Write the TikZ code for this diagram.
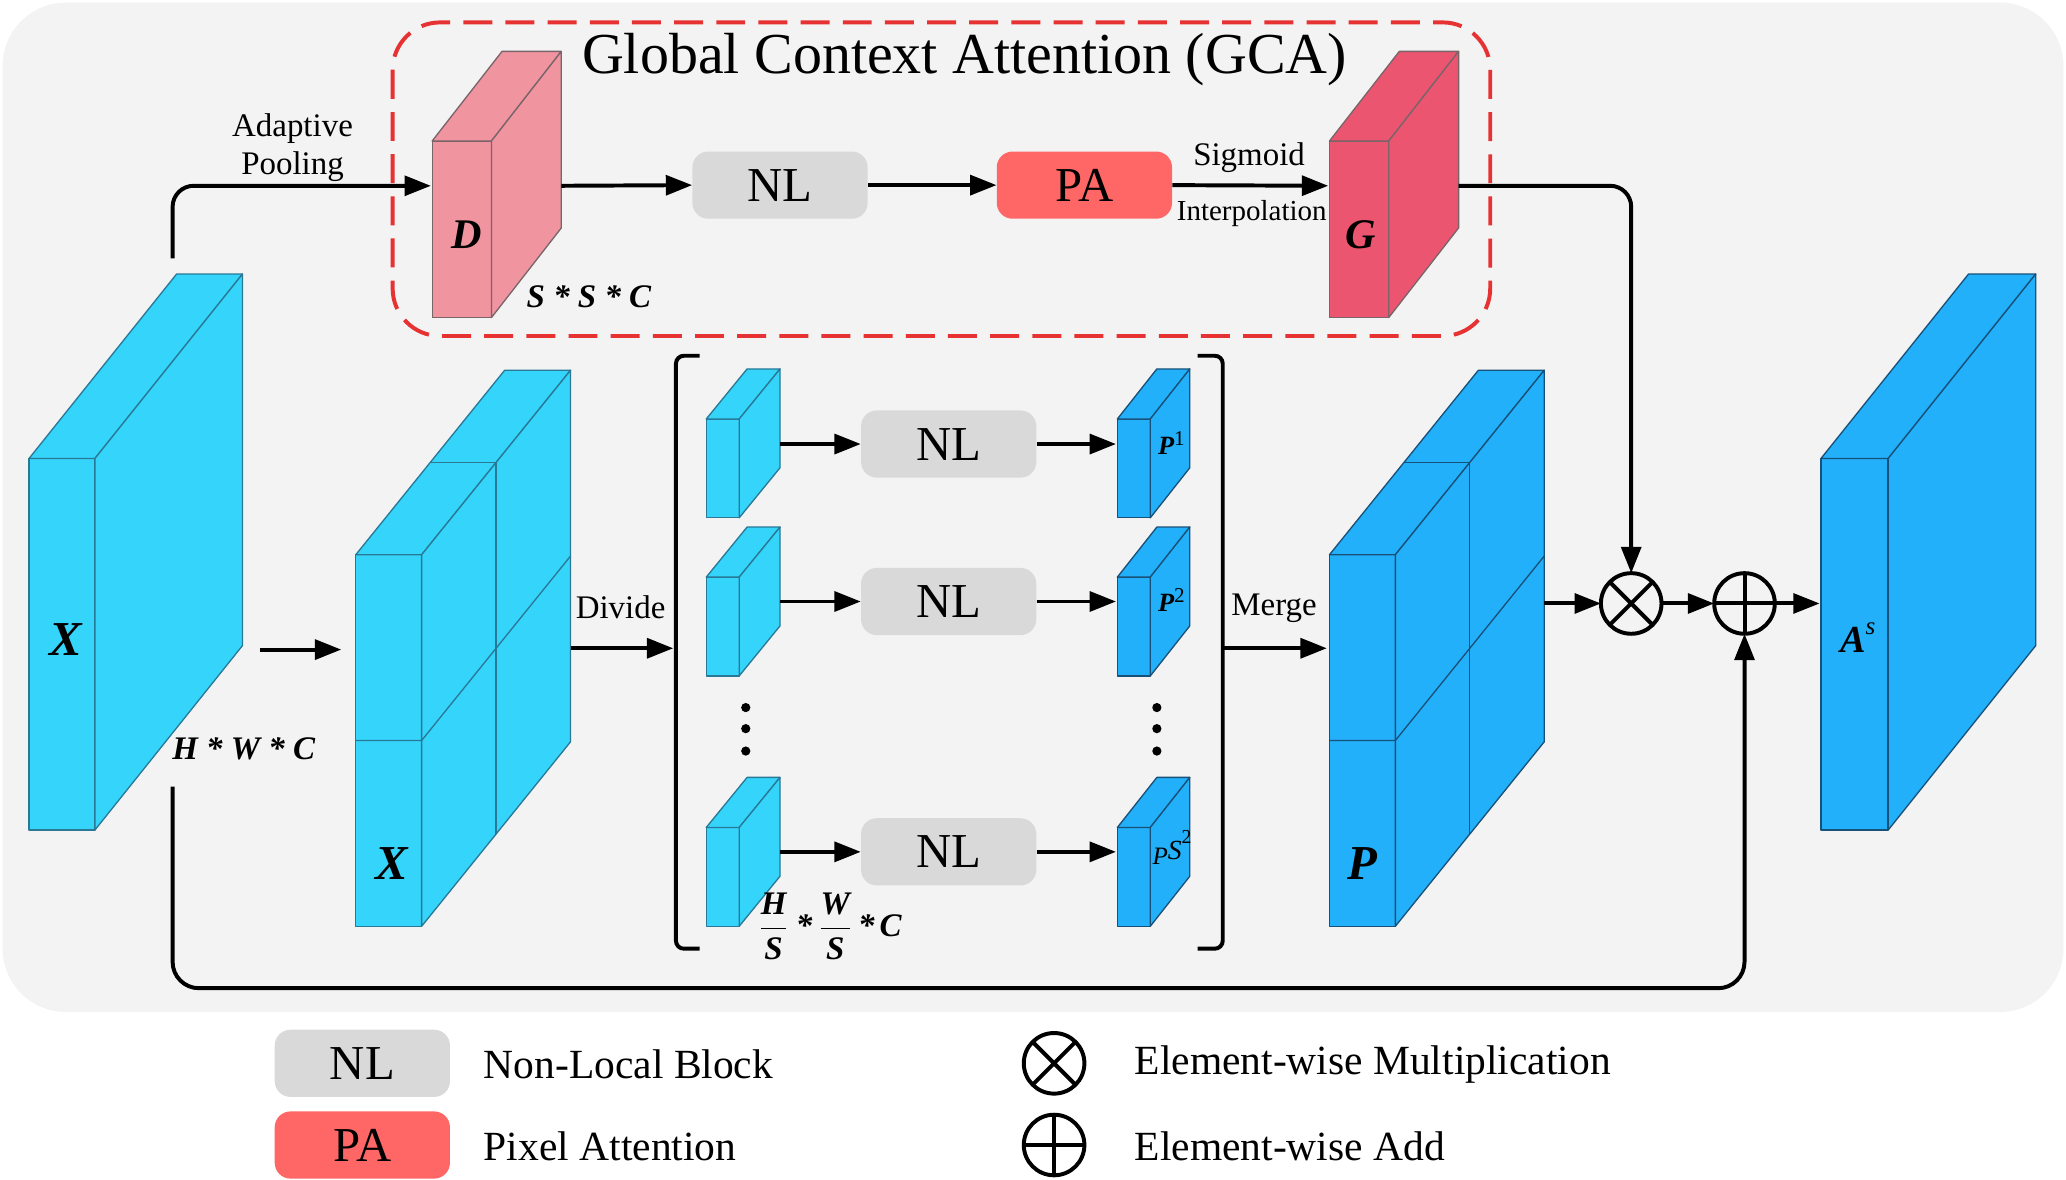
\documentclass[tikz,border=0pt]{standalone}
\usepackage{fontspec}
\setmainfont{Liberation Serif}
\usetikzlibrary{arrows.meta}

\definecolor{bggray}{RGB}{243,243,243}
\definecolor{cyanb}{RGB}{53,212,250}
\definecolor{cyanedge}{RGB}{40,120,150}
\definecolor{blueb}{RGB}{34,176,250}
\definecolor{blueedge}{RGB}{25,80,120}
\definecolor{pinkD}{RGB}{240,148,160}
\definecolor{redG}{RGB}{236,85,112}
\definecolor{pinkedge}{RGB}{120,100,105}
\definecolor{nlgray}{RGB}{217,217,217}
\definecolor{pared}{RGB}{255,102,102}
\definecolor{dashred}{RGB}{230,50,50}

% 1 fill, 2 edge, 3 x, 4 y, 5 w, 6 h, 7 dx, 8 dy
\newcommand{\cubeblk}[8]{%
  \filldraw[fill=#1,draw=#2,line width=1pt,line join=round] (#3,#4) rectangle ({#3+#5},{#4+#6});
  \filldraw[fill=#1,draw=#2,line width=1pt,line join=round] (#3,#4) -- ({#3+#7},{#4-#8}) -- ({#3+#5+#7},{#4-#8}) -- ({#3+#5},#4) -- cycle;
  \filldraw[fill=#1,draw=#2,line width=1pt,line join=round] ({#3+#5},#4) -- ({#3+#5+#7},{#4-#8}) -- ({#3+#5+#7},{#4+#6-#8}) -- ({#3+#5},{#4+#6}) -- cycle;
}
% 1 edge, 2 x, 3 y, 4 w, 5 h, 6 dx, 7 dy
\newcommand{\gridblk}[7]{%
  \draw[draw=#1,line width=1pt] (#2,{#3+#5/2}) -- ({#2+#4},{#3+#5/2}) -- ({#2+#4+#6},{#3+#5/2-#7});
  \draw[draw=#1,line width=1pt] ({#2+#6/2},{#3-#7/2}) -- ({#2+#4+#6/2},{#3-#7/2}) -- ({#2+#4+#6/2},{#3+#5-#7/2});
}

\tikzset{
  conn/.style={line width=3pt, -{Triangle[length=20pt,width=15pt]}},
  nlbox/.style={fill=nlgray, rounded corners=12pt, minimum width=133pt, minimum height=51pt, inner sep=0pt, font=\fontsize{37}{40}\selectfont},
  pabox/.style={nlbox, fill=pared},
  lbl/.style={font=\fontsize{25}{29}\selectfont, inner sep=0pt},
  opcirc/.style={circle, draw, line width=3pt, minimum size=46pt, inner sep=0pt, outer sep=0pt},
  bigit/.style={font=\fontsize{37}{37}\selectfont\bfseries\itshape, inner sep=0pt},
  midit/.style={font=\fontsize{32}{32}\selectfont\bfseries\itshape, inner sep=0pt},
  dimlbl/.style={font=\fontsize{25}{25}\selectfont\bfseries\itshape, inner sep=0pt},
  smallp/.style={font=\fontsize{20}{20}\selectfont\bfseries\itshape, inner sep=0pt},
  legtxt/.style={font=\fontsize{31.5}{34}\selectfont, anchor=west, inner sep=0pt},
  brk/.style={line width=3pt, rounded corners=6pt},
  dotmark/.style={circle, fill=black, inner sep=0pt, minimum size=7pt},
}

\begin{document}
\begin{tikzpicture}[x=1pt,y=-1pt]
\useasboundingbox (0,0) rectangle (1568,895);
\fill[white] (0,0) rectangle (1568,895);
\fill[bggray, rounded corners=48pt] (2,2) rectangle (1566,768);

% GCA dashed frame
\draw[dashred, line width=3pt, dash pattern=on 22pt off 10pt, rounded corners=36pt] (298,17) rectangle (1131,255);
\node[font=\fontsize{44}{48}\selectfont, inner sep=0pt] (title) at (732,45) {Global Context Attention (GCA)};

% blocks
\cubeblk{cyanb}{cyanedge}{22}{348}{50}{282}{112}{140}
\cubeblk{cyanb}{cyanedge}{270}{421}{50}{282}{113}{140}
\gridblk{cyanedge}{270}{421}{50}{282}{113}{140}
\cubeblk{pinkD}{pinkedge}{328}{107}{45}{134}{53}{68}
\cubeblk{redG}{pinkedge}{1009}{107}{45}{134}{53}{68}
\cubeblk{blueb}{blueedge}{1009}{421}{50}{282}{113}{140}
\gridblk{blueedge}{1009}{421}{50}{282}{113}{140}
\cubeblk{blueb}{blueedge}{1382}{348}{51}{282}{112}{140}

\cubeblk{cyanb}{cyanedge}{536}{318}{25}{75}{31}{38}
\cubeblk{cyanb}{cyanedge}{536}{438}{25}{75}{31}{38}
\cubeblk{cyanb}{cyanedge}{536}{628}{25}{75}{31}{38}
\cubeblk{blueb}{blueedge}{848}{318}{25}{75}{30}{38}
\cubeblk{blueb}{blueedge}{848}{438}{25}{75}{30}{38}
\cubeblk{blueb}{blueedge}{848}{628}{25}{75}{30}{38}

% block labels
\node[bigit] (lX1) at (50,485) {X};
\node[bigit] (lX2) at (297,655) {X};
\node[bigit] (lP) at (1034,655) {P};
\node[font=\fontsize{29}{29}\selectfont\bfseries\itshape, inner sep=0pt] (lA) at (1410,484) {A\raisebox{14pt}{\fontsize{19}{19}\selectfont\mdseries s}};
\node[midit] (lD) at (354,178) {D};
\node[midit] (lG) at (1033,178) {G};
\node[dimlbl] (hwc) at (185,568) {H * W * C};
\node[dimlbl] (ssc) at (447,225) {S * S * C};
\node[dimlbl, anchor=west] (frac) at (576,703) {$\displaystyle\frac{\textbf{\textit{H}}}{\textbf{\textit{S}}}$\hspace{6pt}*\hspace{5pt}$\displaystyle\frac{\textbf{\textit{W}}}{\textbf{\textit{S}}}$\hspace{5pt}*\hspace{4pt}C};
\node[smallp] (lp1) at (889,336) {P\raisebox{7pt}{\fontsize{16}{16}\selectfont\mdseries\upshape 1}};
\node[smallp] (lp2) at (889,455.5) {P\raisebox{7pt}{\fontsize{16}{16}\selectfont\mdseries\upshape 2}};
\node[font=\fontsize{19}{19}\selectfont\itshape, inner sep=0pt] (lp3) at (889.5,643) {P\raisebox{4pt}{\fontsize{21}{21}\selectfont S}\raisebox{16pt}{\fontsize{15}{15}\selectfont\upshape 2}};

% top branch boxes
\node[nlbox] (nlt) at (592,140.5) {NL};
\node[pabox] (pat) at (823,140.5) {PA};

% row boxes
\node[nlbox] (nl1) at (720,337) {NL};
\node[nlbox] (nl2) at (720,456.5) {NL};
\node[nlbox] (nl3) at (720,646.5) {NL};

% dots
\node[dotmark] (dl1) at (566,537) {};
\node[dotmark] (dl2) at (566,553) {};
\node[dotmark] (dl3) at (566,570) {};
\node[dotmark] (dr1) at (878,537) {};
\node[dotmark] (dr2) at (878,553) {};
\node[dotmark] (dr3) at (878,570) {};

% brackets
\coordinate (bLt) at (531,270); \coordinate (bLtc) at (513,270);
\coordinate (bLbc) at (513,720); \coordinate (bLb) at (531,720);
\coordinate (bRt) at (909,270); \coordinate (bRtc) at (928,270);
\coordinate (bRbc) at (928,720); \coordinate (bRb) at (909,720);
\draw[brk] (bLt) -- (bLtc) -- (bLbc) -- (bLb);
\draw[brk] (bRt) -- (bRtc) -- (bRbc) -- (bRb);

% operators
\node[opcirc] (times) at (1238,458) {};
\draw[line width=3pt] (times.north east) -- (times.south west) (times.north west) -- (times.south east);
\node[opcirc] (plus) at (1324,458) {};
\draw[line width=3pt] (plus.north) -- (plus.south) (plus.west) -- (plus.east);

% connector coordinates
\coordinate (apS) at (131,196);
\coordinate (Din) at (327,141);
\coordinate (Dout) at (426,141);
\coordinate (Gin) at (1008,141);
\coordinate (Gout) at (1107,141);
\coordinate (x1out) at (197,493);
\coordinate (x2in) at (259,493);
\coordinate (x2out) at (433,492);
\coordinate (brkin) at (511,492);
\coordinate (brkout) at (928,492);
\coordinate (Pin) at (1007,492);
\coordinate (Pout) at (1172,458);
\coordinate (Ain) at (1381,458);
\coordinate (s1o) at (592,337); \coordinate (p1i) at (847,337);
\coordinate (s2o) at (592,456.5); \coordinate (p2i) at (847,456.5);
\coordinate (s3o) at (592,646.5); \coordinate (p3i) at (847,646.5);
\coordinate (skipS) at (131,597);
\coordinate (skipC) at (131,750);

% connectors
\draw[conn, rounded corners=16pt] (apS) |- (Din);
\node[lbl, align=center] (aplbl) at (222,112) {Adaptive\\Pooling};
\draw[conn] (Dout) -- (nlt.west);
\draw[conn] (nlt.east) -- (pat.west);
\draw[conn] (pat.east) -- (Gin);
\node[lbl] (sig) at (948,120) {Sigmoid};
\node[lbl, font=\fontsize{22}{24}\selectfont] (interp) at (950,162) {Interpolation};
\draw[conn, rounded corners=16pt] (Gout) -| (times.north);
\draw[conn] (x1out) -- (x2in);
\draw[conn] (x2out) -- (brkin);
\node[lbl] (divlbl) at (471,461) {Divide};
\draw[conn] (brkout) -- (Pin);
\node[lbl] (mrglbl) at (967,462) {Merge};
\draw[conn] (s1o) -- (nl1.west);
\draw[conn] (nl1.east) -- (p1i);
\draw[conn] (s2o) -- (nl2.west);
\draw[conn] (nl2.east) -- (p2i);
\draw[conn] (s3o) -- (nl3.west);
\draw[conn] (nl3.east) -- (p3i);
\draw[conn] (Pout) -- (times.west);
\draw[conn] (times.east) -- (plus.west);
\draw[conn] (plus.east) -- (Ain);
\draw[conn, rounded corners=20pt] (skipS) -- (skipC) -| (plus.south);

% legend
\node[nlbox] (nlL) at (275,807) {NL};
\node[pabox] (paL) at (275,869) {PA};
\node[legtxt] (nlLt) at (367,808) {Non-Local Block};
\node[legtxt] (paLt) at (367,870) {Pixel Attention};
\node[opcirc] (timesL) at (800,807) {};
\draw[line width=3pt] (timesL.north east) -- (timesL.south west) (timesL.north west) -- (timesL.south east);
\node[opcirc] (plusL) at (800,869) {};
\draw[line width=3pt] (plusL.north) -- (plusL.south) (plusL.west) -- (plusL.east);
\node[legtxt] (timesLt) at (861,808) {Element-wise Multiplication};
\node[legtxt] (plusLt) at (861,870) {Element-wise Add};
\end{tikzpicture}
\end{document}
